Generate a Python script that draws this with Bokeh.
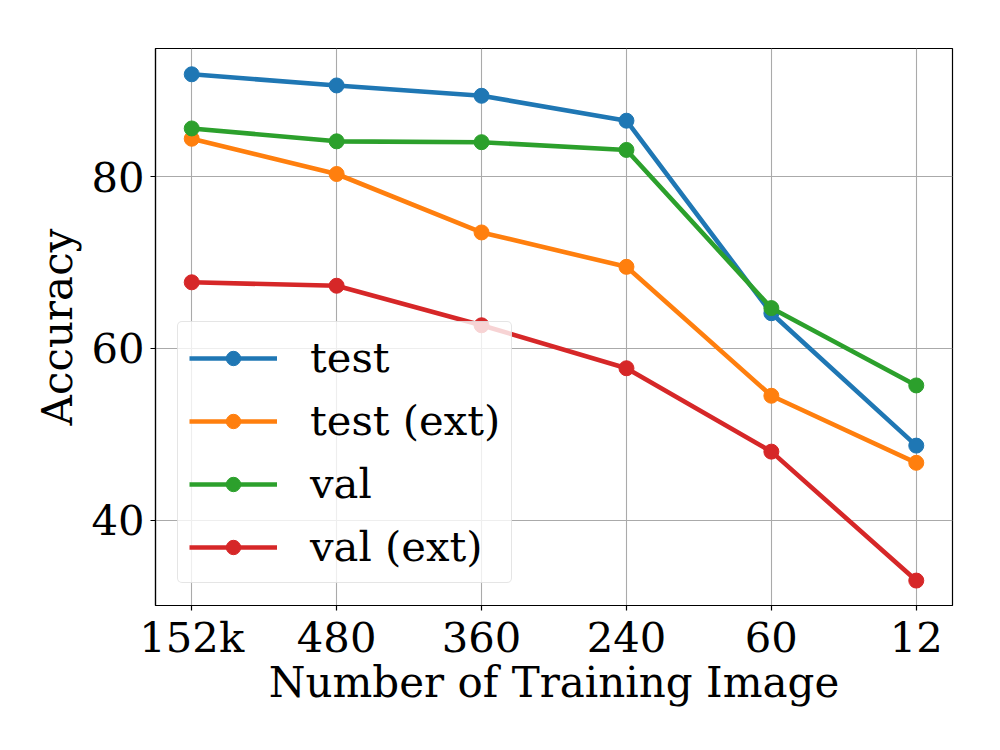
from bokeh.plotting import figure
from bokeh.embed import file_html
from bokeh.resources import INLINE
from bokeh.models import Range1d, FixedTicker, Legend, LegendItem

categories = ["152k", "480", "360", "240", "60", "12"]
test = [91.9, 90.6, 89.4, 86.5, 64.1, 48.7]
test_ext = [84.4, 80.3, 73.5, 69.5, 54.5, 46.7]
val = [85.6, 84.1, 84.0, 83.1, 64.7, 55.7]
val_ext = [67.7, 67.3, 62.7, 57.7, 48.0, 33.0]
y_ticks = [40, 60, 80]

series = [
    ("test", test, "#1f77b4"),
    ("test (ext)", test_ext, "#ff7f0e"),
    ("val", val, "#2ca02c"),
    ("val (ext)", val_ext, "#d62728"),
]

FONT = "DejaVu Serif"
xs = list(range(len(categories)))

p = figure(width=984, height=734, output_backend="svg", toolbar_location=None,
           x_range=Range1d(-0.25, len(categories) - 0.75),
           y_range=Range1d(30.1, 94.9),
           min_border_left=155, min_border_right=32,
           min_border_top=48, min_border_bottom=129)

p.background_fill_color = "white"
p.border_fill_color = "white"
p.outline_line_color = "black"
p.outline_line_width = 1.2
p.outline_line_alpha = 1.0

items = []
for name, ys, color in series:
    r1 = p.line(xs, ys, line_color=color, line_width=4.6)
    r2 = p.scatter(xs, ys, size=15, fill_color=color, line_color=color)
    items.append(LegendItem(label=name, renderers=[r1, r2]))

legend = Legend(items=items, location="bottom_left")
legend.margin = 22
legend.padding = 11
legend.spacing = 14
legend.glyph_width = 88
legend.glyph_height = 36
legend.label_height = 47
legend.label_standoff = 33
legend.label_text_font = FONT
legend.label_text_font_size = "41.7px"
legend.label_text_color = "black"
legend.border_line_color = "#cccccc"
legend.border_line_width = 1.2
legend.border_radius = 5
legend.background_fill_color = "white"
legend.background_fill_alpha = 0.8
p.add_layout(legend)

p.xaxis.ticker = FixedTicker(ticks=xs)
p.xaxis.major_label_overrides = {i: c for i, c in enumerate(categories)}
p.yaxis.ticker = FixedTicker(ticks=y_ticks)

for ax in (p.xaxis[0], p.yaxis[0]):
    ax.major_label_text_font = FONT
    ax.major_label_text_font_size = "41.7px"
    ax.major_label_text_color = "black"
    ax.axis_label_text_font = FONT
    ax.axis_label_text_font_size = "42px"
    ax.axis_label_text_font_style = "normal"
    ax.axis_label_text_color = "black"
    ax.axis_line_color = "black"
    ax.axis_line_width = 1.2
    ax.major_tick_line_color = "black"
    ax.major_tick_line_width = 1.2
    ax.major_tick_out = 5
    ax.major_tick_in = 0
    ax.minor_tick_line_color = None

p.xaxis.major_label_standoff = 2
p.xaxis.axis_label_standoff = -7
p.yaxis.major_label_standoff = 6
p.yaxis.axis_label_standoff = 6

p.xaxis.axis_label = "Number of Training Image"
p.yaxis.axis_label = "Accuracy"

p.grid.grid_line_color = "#aaaaaa"
p.grid.grid_line_width = 1.1

open("out.html", "w").write(file_html(p, INLINE))
